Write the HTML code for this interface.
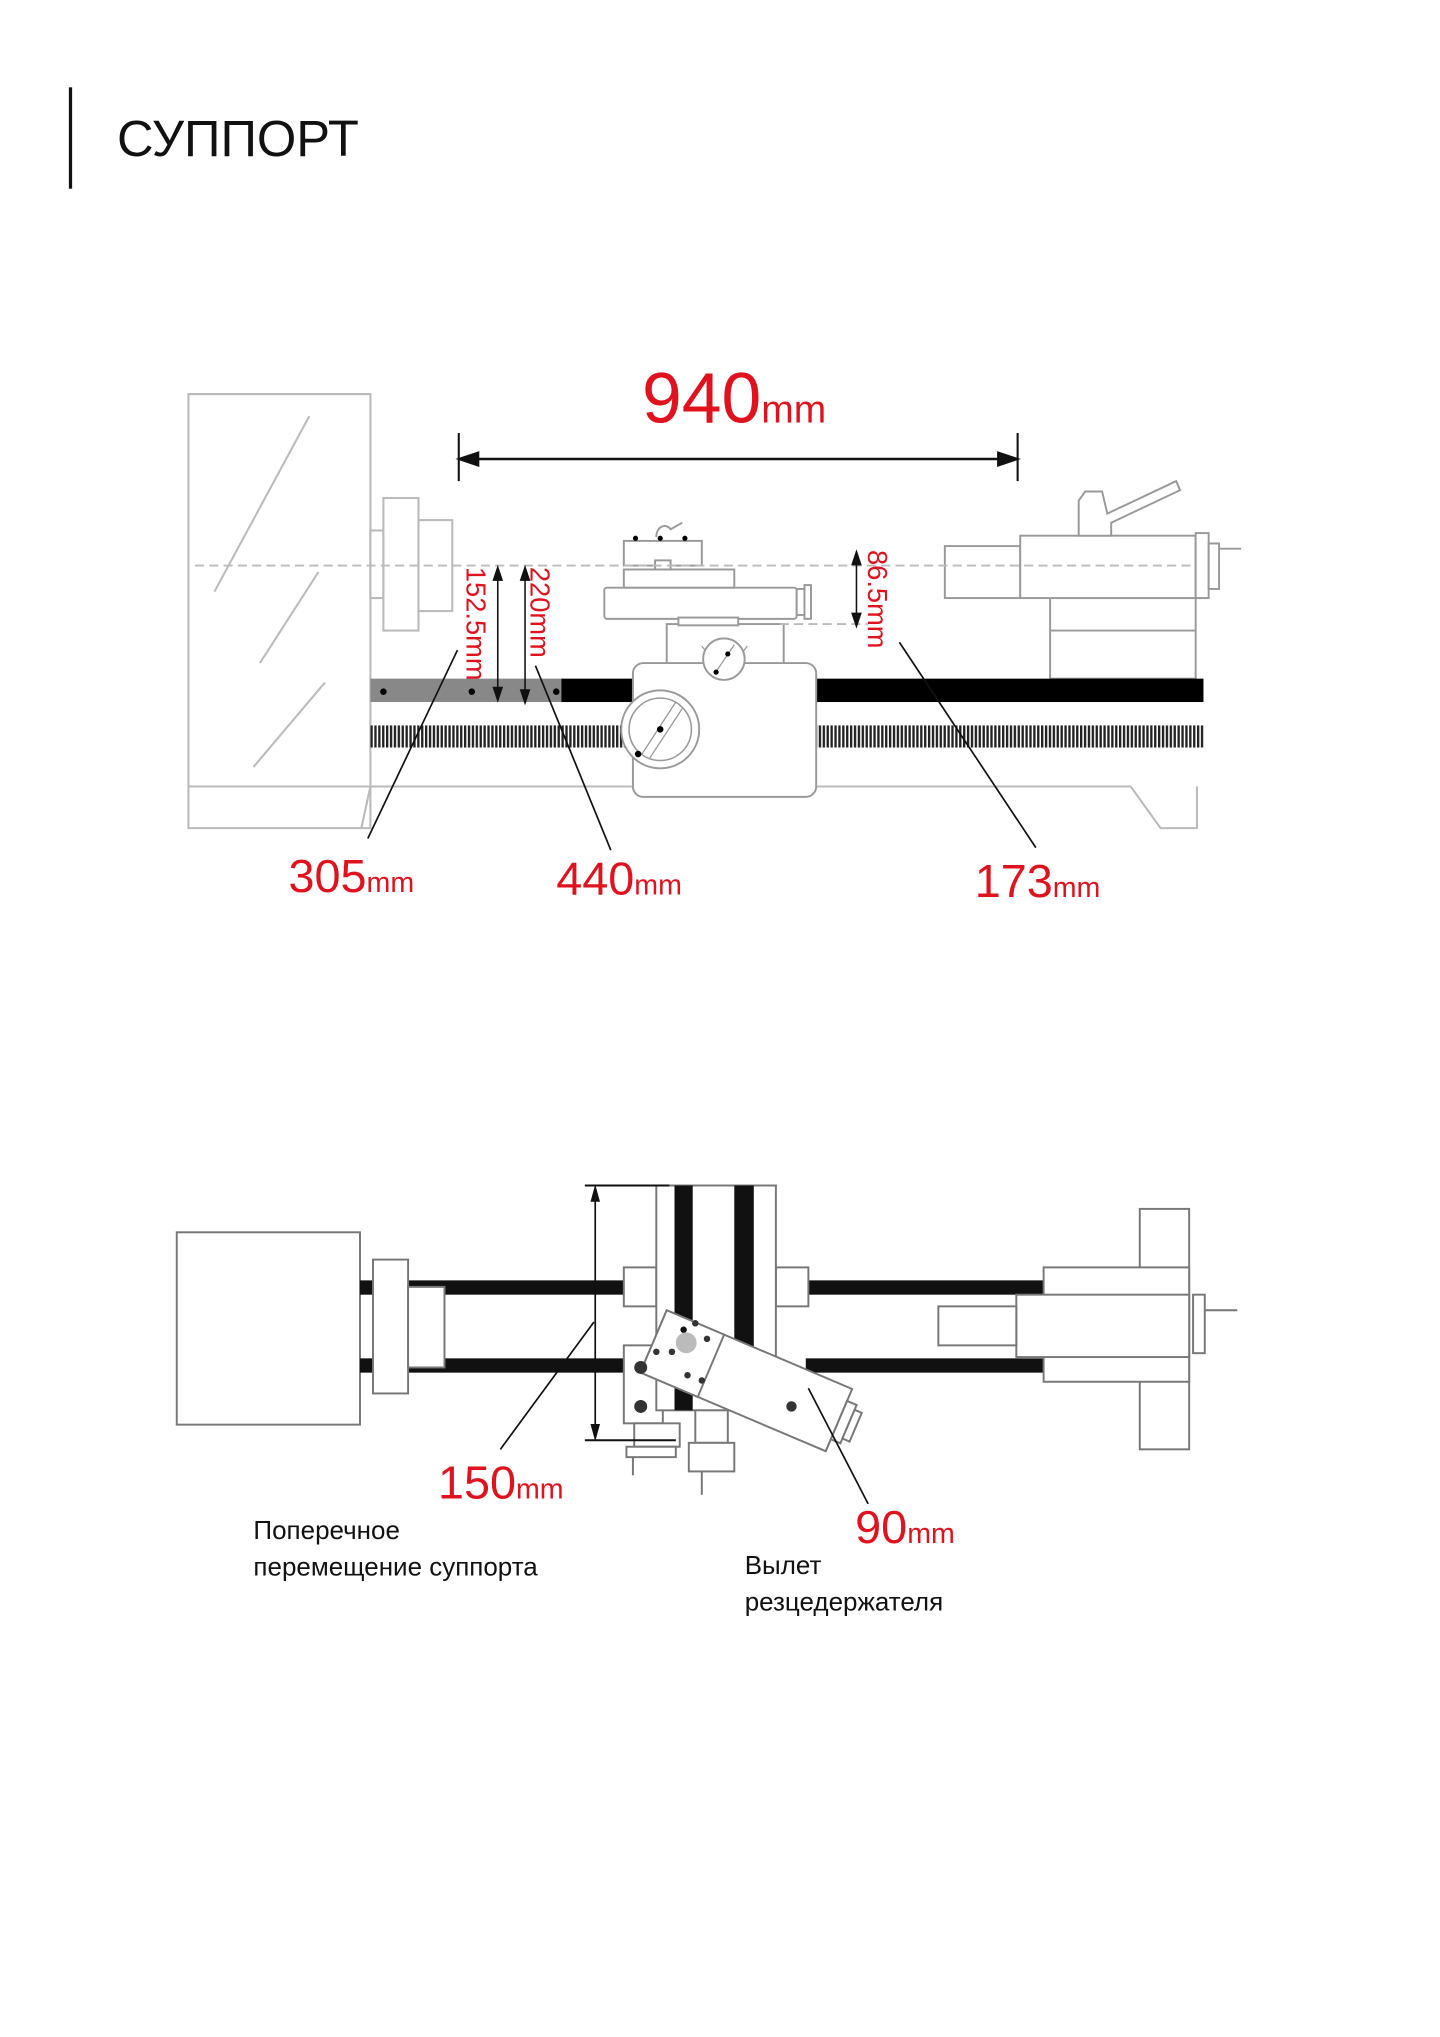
<!DOCTYPE html>
<html><head><meta charset="utf-8"><style>
html,body{margin:0;padding:0;background:#fff}
svg{display:block}
text{font-family:"Liberation Sans",sans-serif}
</style></head><body>
<svg width="1440" height="2037" viewBox="0 0 1108 1567" xmlns="http://www.w3.org/2000/svg">
<defs>
<pattern id="thr" width="3" height="18" patternUnits="userSpaceOnUse">
<rect width="3" height="18" fill="#fff"/><rect width="1.8" height="18" fill="#222"/>
</pattern>
</defs>
<!-- header -->
<rect x="53" y="67" width="2.5" height="78" fill="#111"/>
<text x="90" y="120" font-size="39" fill="#111">СУППОРТ</text>

<!-- TOP DIAGRAM -->
<g fill="none" stroke="#bbb" stroke-width="1.6">
<path d="M145 303H285V637H145Z"/>
<path d="M145 605H870L893 637H921V605"/>
<path d="M285 605L278 637"/>
<line x1="238" y1="320" x2="165" y2="455"/>
<line x1="245" y1="440" x2="200" y2="510"/>
<line x1="250" y1="525" x2="195" y2="590"/>
<rect x="285" y="408" width="10" height="52"/>
<rect x="295" y="383" width="27" height="102"/>
<rect x="322" y="400" width="26" height="70"/>
</g>
<g fill="#fff" stroke="#999" stroke-width="1.5">
<rect x="808" y="460" width="112" height="62"/>
<line x1="808" y1="485" x2="920" y2="485"/>
<rect x="727" y="420" width="58" height="40"/>
<rect x="785" y="412" width="135" height="48"/>
<rect x="920" y="410" width="10" height="50"/>
<rect x="930" y="418" width="8" height="35"/>
<line x1="938" y1="422" x2="955" y2="422"/>
<path d="M830 412V385L835 378H848L852 395L905 370L908 377L855 402V412Z"/>
<rect x="513" y="480" width="90" height="32"/>
<rect x="465" y="452" width="148" height="24" rx="2"/>
<rect x="613" y="453" width="6" height="20"/>
<rect x="619" y="450" width="5" height="26"/>
<rect x="480" y="438" width="85" height="14"/>
<rect x="480" y="416" width="60" height="19"/>
<rect x="504" y="431" width="12" height="7"/>
<rect x="522" y="475" width="46" height="6"/>
</g>
<line x1="150" y1="435" x2="920" y2="435" stroke="#bbb" stroke-width="1.5" stroke-dasharray="7 4"/>
<line x1="600" y1="480" x2="668" y2="480" stroke="#bbb" stroke-width="1.5" stroke-dasharray="7 4"/>
<rect x="285" y="522" width="148" height="18" fill="#888"/>
<rect x="432" y="522" width="56" height="18" fill="#000"/>
<rect x="628" y="522" width="298" height="18" fill="#000"/>
<circle cx="295" cy="532" r="2.5" fill="#000"/><circle cx="363" cy="532" r="2.5" fill="#000"/><circle cx="428" cy="532" r="2.5" fill="#000"/>
<rect x="285" y="558" width="202" height="17" fill="url(#thr)"/>
<rect x="628" y="558" width="298" height="17" fill="url(#thr)"/>
<rect x="487" y="510" width="141" height="103" rx="8" fill="#fff" stroke="#999" stroke-width="1.5"/>
<circle cx="508" cy="561" r="30" fill="#fff" stroke="#999" stroke-width="1.5"/>
<circle cx="508" cy="561" r="24" fill="none" stroke="#999" stroke-width="1.2"/>
<line x1="494" y1="580" x2="520" y2="540" stroke="#999"/><line x1="500" y1="583" x2="525" y2="545" stroke="#999"/>
<circle cx="508" cy="561" r="2.5" fill="#000"/><circle cx="491" cy="580" r="2.5" fill="#000"/>
<path d="M540 497L548 507M575 497L567 507" stroke="#999" fill="none"/>
<circle cx="557" cy="507" r="16" fill="#fff" stroke="#999" stroke-width="1.5"/>
<line x1="550" y1="518" x2="565" y2="496" stroke="#999"/>
<circle cx="560" cy="503" r="2" fill="#000"/><circle cx="551" cy="517" r="2" fill="#000"/>
<g fill="#000"><circle cx="489" cy="414" r="2"/><circle cx="508" cy="414" r="2"/><circle cx="527" cy="414" r="2"/></g>
<path d="M505 413C505 405 512 402 516 407L525 402" stroke="#999" fill="none" stroke-width="1.5"/>
<g stroke="#111" stroke-width="1.6" fill="#111">
<line x1="353" y1="333" x2="353" y2="370"/><line x1="783" y1="333" x2="783" y2="370"/>
<line x1="362" y1="353" x2="774" y2="353" stroke-width="2"/>
<path d="M353 353L368 348V358Z"/><path d="M783 353L768 348V358Z"/>
<line x1="383" y1="442" x2="383" y2="533" stroke-width="1.2"/><path d="M383 437L380 446H386Z"/><path d="M383 538L380 529H386Z"/>
<line x1="404" y1="442" x2="404" y2="535" stroke-width="1.2"/><path d="M404 437L401 446H407Z"/><path d="M404 540L401 531H407Z"/>
<line x1="659" y1="430" x2="659" y2="476" stroke-width="1.2"/><path d="M659 425L656 434H662Z"/><path d="M659 481L656 472H662Z"/>
<line x1="352" y1="500" x2="283" y2="645" stroke-width="1.3"/>
<line x1="412" y1="512" x2="470" y2="654" stroke-width="1.3"/>
<line x1="692" y1="494" x2="797" y2="652" stroke-width="1.3"/>
</g>
<g fill="#e0121e">
<text x="494" y="325" font-size="55">940<tspan font-size="30">mm</tspan></text>
<text x="222" y="686" font-size="36">305<tspan font-size="22">mm</tspan></text>
<text x="428" y="688" font-size="36">440<tspan font-size="22">mm</tspan></text>
<text x="750" y="690" font-size="36">173<tspan font-size="22">mm</tspan></text>
<text transform="translate(359 436) rotate(90)" font-size="21">152.5mm</text>
<text transform="translate(408 436) rotate(90)" font-size="21">220mm</text>
<text transform="translate(668 423) rotate(90)" font-size="21">86.5mm</text>
</g>

<!-- BOTTOM DIAGRAM -->
<g fill="#fff" stroke="#777" stroke-width="1.5">
<rect x="136" y="948" width="141" height="148"/>
<rect x="277" y="985" width="203" height="11" fill="#111" stroke="none"/>
<rect x="277" y="1045" width="203" height="11" fill="#111" stroke="none"/>
<rect x="620" y="985" width="183" height="11" fill="#111" stroke="none"/>
<rect x="620" y="1045" width="183" height="11" fill="#111" stroke="none"/>
<rect x="287" y="969" width="27" height="103"/>
<rect x="314" y="990" width="28" height="62"/>
<rect x="877" y="930" width="38" height="185"/>
<rect x="803" y="975" width="112" height="88"/>
<rect x="782" y="996" width="133" height="48"/>
<rect x="722" y="1005" width="60" height="30"/>
<rect x="918" y="996" width="9" height="45"/>
<line x1="927" y1="1008" x2="952" y2="1008"/>
<rect x="480" y="975" width="25" height="30"/>
<rect x="597" y="975" width="25" height="30"/>
<rect x="480" y="1035" width="30" height="60"/>
<rect x="590" y="1060" width="32" height="35"/>
<rect x="505" y="912" width="92" height="173"/>
<rect x="519" y="912" width="14" height="173" fill="#111" stroke="none"/>
<rect x="565" y="912" width="15" height="173" fill="#111" stroke="none"/>
<rect x="488" y="1095" width="35" height="18"/>
<rect x="482" y="1113" width="38" height="8"/>
<line x1="487" y1="1121" x2="487" y2="1135"/>
<rect x="535" y="1085" width="25" height="25"/>
<rect x="530" y="1110" width="35" height="22"/>
<line x1="540" y1="1132" x2="540" y2="1150"/>
<g transform="translate(513 1008) rotate(23)">
<rect x="0" y="0" width="155" height="52"/>
<rect x="0" y="0" width="48" height="52"/>
<rect x="155" y="10" width="8" height="32"/>
<rect x="163" y="14" width="6" height="24"/>
</g>
</g>
<g fill="#333">
<circle cx="493" cy="1052" r="5"/><circle cx="493" cy="1082" r="5"/><circle cx="609" cy="1082" r="4"/>
<circle cx="526" cy="1023" r="2.5" fill="#111"/><circle cx="544" cy="1030" r="2.5"/><circle cx="535" cy="1018" r="2.5"/>
<circle cx="517" cy="1040" r="2.5"/><circle cx="505" cy="1040" r="2.5"/><circle cx="529" cy="1058" r="2.5"/><circle cx="540" cy="1062" r="2.5"/>
</g>
<circle cx="528" cy="1033" r="8" fill="#bbb"/>
<g stroke="#111" fill="#111">
<line x1="450" y1="912" x2="515" y2="912" stroke-width="1.5"/>
<line x1="450" y1="1108" x2="520" y2="1108" stroke-width="1.5"/>
<line x1="458" y1="920" x2="458" y2="1100" stroke-width="1.3"/>
<path d="M458 913L455 924H461Z"/><path d="M458 1107L455 1096H461Z"/>
<line x1="457" y1="1017" x2="385" y2="1115" stroke-width="1.3"/>
<line x1="622" y1="1068" x2="668" y2="1157" stroke-width="1.3"/>
</g>
<g fill="#e0121e">
<text x="337" y="1153" font-size="36">150<tspan font-size="22">mm</tspan></text>
<text x="658" y="1187" font-size="36">90<tspan font-size="22">mm</tspan></text>
</g>
<g fill="#111" font-size="20">
<text x="195" y="1184">Поперечное</text>
<text x="195" y="1212">перемещение суппорта</text>
<text x="573" y="1211">Вылет</text>
<text x="573" y="1239">резцедержателя</text>
</g>
</svg>
</body></html>
